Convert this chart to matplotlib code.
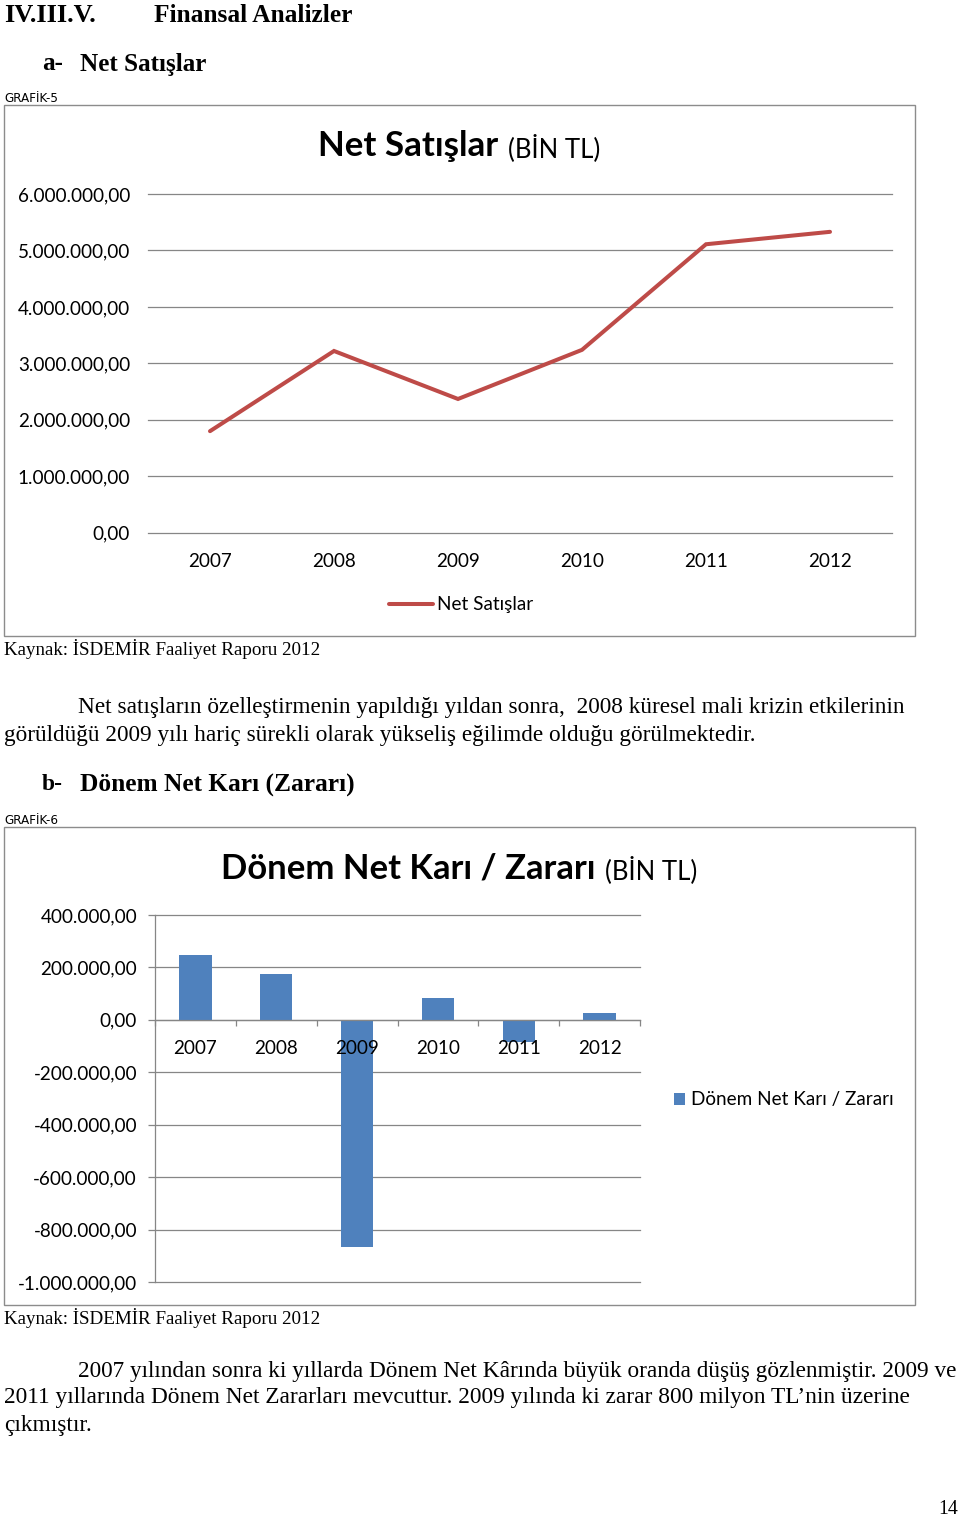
import matplotlib
matplotlib.use("Agg")
import matplotlib.pyplot as plt
from matplotlib.patches import Rectangle
from matplotlib.ticker import FuncFormatter

# ---------------- data ----------------
years = ["2007", "2008", "2009", "2010", "2011", "2012"]
net_sales = [1800000, 3220000, 2370000, 3240000, 5110000, 5330000]
net_profit = [248000, 176000, -867000, 83000, -83000, 28000]
sales_ticks = [0, 1000000, 2000000, 3000000, 4000000, 5000000, 6000000]
profit_ticks = [-1000000, -800000, -600000, -400000, -200000, 0, 200000, 400000]

W, H = 960, 1519
fig = plt.figure(figsize=(W / 100, H / 100), dpi=100)
fig.patch.set_facecolor("white")
renderer = fig.canvas.get_renderer()

SANS = ["Lato", "DejaVu Sans"]
SERIF = ["Liberation Serif", "DejaVu Serif"]
GRID = "#868686"
FRAME = "#8c8c8c"
TICK_FS = 13.6


def fx(x):
    return x / W


def fy(y):
    return 1 - y / H


def ftext(x, y, s, width=None, size=12, ha="left", va="center", **kw):
    t = fig.text(fx(x), fy(y), s, ha=ha, va=va, fontsize=size, **kw)
    if width:
        w = t.get_window_extent(renderer).width
        t.set_fontsize(size * width / w)
    return t


def axrect(x0, y0, x1, y1):
    return [fx(x0), fy(y1), (x1 - x0) / W, (y1 - y0) / H]


def tr_fmt(v, pos=None):
    s = f"{v:,.2f}"
    return s.replace(",", "X").replace(".", ",").replace("X", ".")


# ---------------- page text ----------------
ftext(4, 15, "IV.III.V.", width=93, family=SERIF, weight="bold")
ftext(154, 15, "Finansal Analizler", width=197, family=SERIF, weight="bold")
ftext(42, 64, "a-", width=21, family=SERIF, weight="bold")
ftext(80, 64, "Net Satışlar", width=126, family=SERIF, weight="bold")
ftext(4, 99, "GRAFİK-5", width=54, family=["DejaVu Sans"])

ftext(4, 649, "Kaynak: İSDEMİR Faaliyet Raporu 2012", width=316, family=SERIF)
ftext(78, 708, "Net satışların özelleştirmenin yapıldığı yıldan sonra,  2008 küresel mali krizin etkilerinin",
      width=825, family=SERIF)
ftext(4, 736, "görüldüğü 2009 yılı hariç sürekli olarak yükseliş eğilimde olduğu görülmektedir.",
      width=751, family=SERIF)

ftext(42, 785, "b-", width=21, family=SERIF, weight="bold")
ftext(80, 785, "Dönem Net Karı (Zararı)", width=273, family=SERIF, weight="bold")
ftext(4, 821, "GRAFİK-6", width=54, family=["DejaVu Sans"])

ftext(4, 1318, "Kaynak: İSDEMİR Faaliyet Raporu 2012", width=316, family=SERIF)
ftext(78, 1371, "2007 yılından sonra ki yıllarda Dönem Net Kârında büyük oranda düşüş gözlenmiştir. 2009 ve",
      width=877, family=SERIF)
ftext(4, 1398, "2011 yıllarında Dönem Net Zararları mevcuttur. 2009 yılında ki zarar 800 milyon TL’nin üzerine",
      width=902, family=SERIF)
ftext(4, 1425, "çıkmıştır.", width=88, family=SERIF)
ftext(938, 1509, "14", width=20, family=SERIF)

# frames
for (x0, y0, x1, y1) in [(4, 105, 915, 636), (4, 827, 915, 1305)]:
    fig.patches.append(Rectangle((fx(x0), fy(y1)), (x1 - x0) / W, (y1 - y0) / H,
                                 transform=fig.transFigure, fill=False,
                                 edgecolor=FRAME, linewidth=1.0))

# ---------------- chart 1 ----------------
ax1 = fig.add_axes(axrect(148, 194, 892, 532.8))
ax1.set_facecolor("none")
x = list(range(len(years)))
ax1.plot(x, net_sales, color="#BE4B48", lw=2.9, solid_capstyle="round",
         solid_joinstyle="miter", label="Net Satışlar", zorder=3)
ax1.set_xlim(-0.5, len(years) - 0.5)
ax1.set_ylim(0, 6000000)
ax1.set_yticks(sales_ticks)
ax1.yaxis.set_major_formatter(FuncFormatter(tr_fmt))
ax1.set_xticks(x)
ax1.set_xticklabels(years)
for v in sales_ticks:
    ax1.axhline(v, color=GRID, lw=0.9, zorder=0, clip_on=False)
for s in ax1.spines.values():
    s.set_visible(False)
ax1.tick_params(axis="y", length=0, pad=13, labelsize=TICK_FS)
ax1.tick_params(axis="x", length=0, pad=14.5, labelsize=TICK_FS)
for lab in ax1.get_xticklabels() + ax1.get_yticklabels():
    lab.set_family(SANS)

ax1.legend(loc="center left", bbox_to_anchor=(fx(389), fy(605)),
           bbox_transform=fig.transFigure, frameon=False, borderpad=0,
           borderaxespad=0, handlelength=2.35, handletextpad=0.2,
           prop={"family": SANS, "size": TICK_FS})

ftext(318, 146, "Net Satışlar", width=180, family=SANS, weight="bold")
ftext(508, 148, "(BİN TL)", width=92, family=SANS)

# ---------------- chart 2 ----------------
ax2 = fig.add_axes(axrect(155, 915, 640, 1282))
ax2.set_facecolor("none")
ax2.bar(x, net_profit, width=0.4, color="#4F81BD", label="Dönem Net Karı / Zararı", zorder=1.2)
ax2.set_xlim(-0.5, len(years) - 0.5)
ax2.set_ylim(-1000000, 400000)
ax2.set_yticks(profit_ticks)
ax2.yaxis.set_major_formatter(FuncFormatter(tr_fmt))
for v in profit_ticks:
    ax2.axhline(v, color=GRID, lw=0.9, zorder=0, clip_on=False)
ax2.set_xticks(x)
ax2.set_xticklabels(years)
ax2.set_xticks([i - 0.5 for i in range(len(years) + 1)], minor=True)
ax2.spines["top"].set_visible(False)
ax2.spines["right"].set_visible(False)
ax2.spines["left"].set_color(GRID)
ax2.spines["left"].set_linewidth(0.9)
ax2.spines["bottom"].set_position(("data", 0))
ax2.spines["bottom"].set_color(GRID)
ax2.spines["bottom"].set_linewidth(0.9)
ax2.tick_params(axis="y", length=5, width=0.9, color=GRID, pad=8, labelsize=TICK_FS)
ax2.tick_params(axis="x", which="major", length=0, pad=14.5, labelsize=TICK_FS)
ax2.tick_params(axis="x", which="minor", length=4, width=0.9, color=GRID, direction="out")
for lab in ax2.get_xticklabels() + ax2.get_yticklabels():
    lab.set_family(SANS)

ax2.legend(loc="center left", bbox_to_anchor=(fx(674), fy(1100)),
           bbox_transform=fig.transFigure, frameon=False, borderpad=0,
           borderaxespad=0, handlelength=0.6, handleheight=0.6,
           handletextpad=0.3, prop={"family": SANS, "size": TICK_FS})

ftext(221, 868, "Dönem Net Karı / Zararı", width=374, family=SANS, weight="bold")
ftext(605, 870, "(BİN TL)", width=92, family=SANS)

fig.savefig("out.png", dpi=100, facecolor="white")
